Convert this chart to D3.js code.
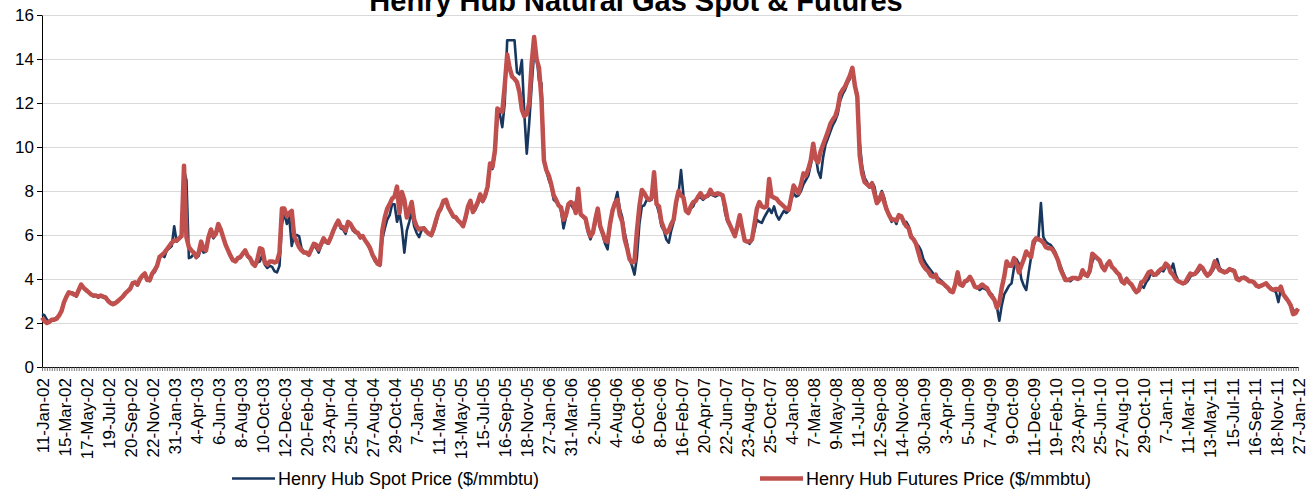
<!DOCTYPE html>
<html>
<head>
<meta charset="utf-8">
<script src="https://cdn.jsdelivr.net/npm/d3@7"></script>
<style>
body{margin:0;background:#fff;}
svg text{font-family:"Liberation Sans",Arial,sans-serif;}
</style>
</head>
<body>
<script>
// weekly prices, one row = 9 weeks (one labelled tick to the next)
var tickLabels=["11-Jan-02","15-Mar-02","17-May-02","19-Jul-02","20-Sep-02","22-Nov-02",
"31-Jan-03","4-Apr-03","6-Jun-03","8-Aug-03","10-Oct-03","12-Dec-03",
"20-Feb-04","23-Apr-04","25-Jun-04","27-Aug-04","29-Oct-04",
"7-Jan-05","11-Mar-05","13-May-05","15-Jul-05","16-Sep-05","18-Nov-05",
"27-Jan-06","31-Mar-06","2-Jun-06","4-Aug-06","6-Oct-06","8-Dec-06",
"16-Feb-07","20-Apr-07","22-Jun-07","23-Aug-07","25-Oct-07",
"4-Jan-08","7-Mar-08","9-May-08","11-Jul-08","12-Sep-08","14-Nov-08",
"30-Jan-09","3-Apr-09","5-Jun-09","7-Aug-09","9-Oct-09","11-Dec-09",
"19-Feb-10","23-Apr-10","25-Jun-10","27-Aug-10","29-Oct-10",
"7-Jan-11","11-Mar-11","13-May-11","15-Jul-11","16-Sep-11","18-Nov-11",
"27-Jan-12"];

var spotPrice=[
2.40,2.35,2.15,2.05,2.10,2.20,2.25,2.35,2.60,
2.95,3.25,3.35,3.40,3.35,3.20,3.45,3.70,3.60,
3.45,3.40,3.30,3.20,3.25,3.15,3.25,3.15,3.20,
3.05,2.95,2.90,2.95,2.95,3.10,3.20,3.30,3.45,
3.60,3.85,3.80,3.70,3.95,4.10,4.20,4.00,3.90,
4.20,4.30,4.55,4.95,5.10,5.00,5.30,5.40,5.50,
6.40,5.70,5.80,6.00,8.90,8.50,4.95,5.00,5.15,
4.95,5.05,5.45,5.20,5.25,5.80,6.10,5.85,6.00,
6.35,6.20,5.90,5.55,5.30,5.10,4.90,4.80,4.95,
4.95,5.10,5.25,5.00,4.90,4.80,4.60,4.75,4.80,
5.10,4.65,4.50,4.60,4.55,4.35,4.30,4.60,6.50,
7.00,6.50,6.80,5.50,6.00,6.00,5.95,5.40,5.25,
5.15,5.10,5.30,5.55,5.40,5.20,5.50,5.75,5.65,
5.60,5.85,6.15,6.40,6.60,6.30,6.25,6.05,6.50,
6.45,6.20,6.10,6.05,5.85,5.95,5.75,5.60,5.35,
5.05,4.80,4.70,4.60,5.80,6.30,6.70,6.90,7.40,
7.40,6.60,7.00,6.30,5.20,6.20,6.60,7.05,6.40,
6.10,5.90,6.20,6.35,6.20,6.10,5.95,6.20,6.55,
7.00,7.15,7.50,7.55,7.25,7.00,6.80,6.85,6.65,
6.55,6.45,6.70,7.20,7.50,7.00,7.15,7.40,7.70,
7.50,7.70,8.10,9.10,9.00,9.70,11.30,11.50,10.90,
12.00,14.85,14.85,14.85,14.85,13.40,13.30,13.95,11.50,
9.70,11.10,12.80,14.30,14.20,13.00,12.90,9.50,8.90,
8.50,8.20,7.60,7.50,7.40,7.10,6.30,6.80,7.30,
7.40,7.20,7.50,7.80,6.90,6.80,6.70,6.10,5.80,
6.10,6.50,7.00,6.30,6.00,5.60,5.35,6.40,7.00,
7.50,7.95,7.20,6.80,6.10,5.60,4.90,4.60,4.20,
5.00,6.50,7.30,7.35,7.60,7.55,7.60,8.40,7.40,
7.00,6.40,6.20,5.80,5.65,6.20,6.60,7.40,7.90,
8.95,7.80,7.10,7.00,7.20,7.30,7.60,7.70,7.70,
7.60,7.70,7.75,7.85,7.80,7.75,7.80,7.90,7.75,
7.00,6.60,6.40,6.20,5.95,6.30,6.70,6.40,5.80,
5.70,5.60,5.75,6.20,6.70,6.60,6.55,6.80,7.00,
7.20,7.00,7.30,6.90,6.70,6.90,7.10,7.00,7.10,
7.60,7.90,7.75,7.80,8.00,8.30,8.50,8.70,9.20,
9.70,9.60,8.90,8.60,9.50,10.10,10.40,10.70,11.00,
11.20,11.50,12.10,12.40,12.60,12.90,13.10,13.35,12.80,
12.40,10.20,9.10,8.60,8.40,8.15,8.40,8.20,7.60,
7.70,8.00,7.70,7.20,6.90,6.60,6.70,6.50,6.90,
6.80,6.50,6.60,6.40,6.00,5.80,5.60,5.50,5.30,
4.90,4.70,4.55,4.40,4.25,4.10,4.05,3.95,3.85,
3.65,3.60,3.45,3.50,3.70,4.10,3.80,3.70,3.85,
3.90,4.10,3.90,3.70,3.60,3.50,3.60,3.55,3.50,
3.40,3.30,3.10,2.75,2.10,2.80,3.30,3.50,3.70,
3.80,4.50,4.90,4.70,4.00,3.70,3.50,4.30,5.00,
5.50,5.80,5.90,7.45,5.90,5.70,5.60,5.55,5.40,
5.20,4.85,4.60,4.30,4.05,3.95,3.90,4.00,4.05,
4.00,4.10,4.40,4.20,4.10,4.30,4.80,5.05,4.90,
4.80,4.60,4.45,4.70,4.80,4.60,4.40,4.30,4.15,
3.85,3.90,4.05,3.80,3.70,3.60,3.40,3.45,3.70,
3.60,3.85,4.00,4.30,4.15,4.20,4.25,4.40,4.35,
4.55,4.60,4.40,4.70,4.20,3.95,3.85,3.80,3.80,
3.90,4.10,4.20,4.20,4.30,4.45,4.50,4.30,4.20,
4.20,4.35,4.55,4.90,4.50,4.40,4.35,4.30,4.40,
4.45,4.40,4.10,4.00,4.05,4.10,4.05,3.95,3.90,
3.85,3.75,3.65,3.70,3.75,3.80,3.70,3.60,3.50,
3.40,2.95,3.55,3.30,3.10,3.00,2.85,2.60,2.50,
2.65];

var futuresPrice=[
2.25,2.10,2.00,2.05,2.15,2.15,2.20,2.35,2.55,
2.95,3.20,3.40,3.35,3.30,3.25,3.50,3.75,3.60,
3.50,3.40,3.30,3.25,3.25,3.20,3.25,3.20,3.15,
3.00,2.90,2.85,2.90,3.00,3.10,3.20,3.35,3.45,
3.55,3.80,3.85,3.75,4.00,4.15,4.25,3.95,3.95,
4.25,4.40,4.60,5.00,5.10,5.20,5.35,5.50,5.65,
5.75,5.75,5.85,5.95,9.15,5.90,5.45,5.30,5.20,
5.00,5.20,5.70,5.35,5.30,5.90,6.25,5.95,6.05,
6.50,6.25,5.90,5.55,5.30,5.05,4.85,4.80,4.95,
5.00,5.15,5.30,5.05,4.95,4.70,4.60,4.90,5.40,
5.35,4.75,4.65,4.80,4.80,4.75,4.80,5.20,7.20,
7.20,6.85,7.00,7.10,5.95,5.70,5.45,5.30,5.20,
5.20,5.10,5.35,5.60,5.55,5.35,5.60,5.85,5.70,
5.65,5.90,6.20,6.45,6.65,6.40,6.35,6.20,6.60,
6.50,6.30,6.15,6.10,5.90,5.95,5.75,5.60,5.40,
5.10,4.90,4.70,4.65,6.20,6.80,7.20,7.40,7.65,
7.75,8.20,7.00,7.95,7.60,6.80,7.10,7.50,6.70,
6.40,6.25,6.30,6.30,6.15,6.05,6.00,6.30,6.70,
7.05,7.25,7.55,7.60,7.25,7.05,6.85,6.80,6.65,
6.55,6.40,6.80,7.30,7.55,7.05,7.25,7.50,7.85,
7.55,7.80,8.20,9.25,9.10,9.85,11.75,11.65,11.60,
12.80,14.20,13.60,13.20,13.10,12.95,12.50,11.70,11.40,
11.50,12.00,13.80,15.00,14.00,13.60,12.20,9.40,8.95,
8.70,8.30,7.80,7.60,7.35,7.25,6.70,6.90,7.40,
7.50,7.40,7.00,8.10,6.95,6.85,6.75,6.25,5.95,
6.10,6.70,7.20,6.40,6.10,5.75,5.70,6.50,7.10,
7.45,7.60,6.90,6.60,5.80,5.40,4.90,4.75,4.80,
6.20,7.30,8.05,7.90,7.70,7.60,7.70,8.85,7.40,
7.30,6.60,6.30,6.10,6.20,6.50,6.70,7.50,8.00,
7.80,7.70,7.10,7.00,7.30,7.50,7.55,7.75,7.90,
7.70,7.75,7.80,8.05,7.85,7.85,7.90,7.85,7.80,
7.30,6.70,6.45,6.20,5.95,6.40,6.90,6.30,5.75,
5.70,5.70,5.80,6.50,7.20,7.50,7.30,7.25,7.30,
8.55,7.75,7.70,7.65,7.50,7.40,7.30,7.20,7.15,
7.70,8.25,8.05,7.90,8.30,8.80,8.70,9.00,9.40,
10.15,9.45,9.30,9.80,10.10,10.40,10.70,11.05,11.25,
11.40,11.75,12.40,12.60,12.75,13.00,13.25,13.60,12.80,
12.30,9.60,8.80,8.40,8.30,8.20,8.35,7.90,7.45,
7.60,7.90,7.50,7.15,6.90,6.70,6.70,6.65,6.90,
6.85,6.60,6.40,6.30,5.90,5.80,5.60,5.20,4.80,
4.60,4.45,4.35,4.15,4.10,4.20,3.90,3.85,3.80,
3.70,3.60,3.45,3.40,3.75,4.30,3.75,3.70,3.90,
3.95,4.10,3.90,3.65,3.60,3.65,3.75,3.65,3.58,
3.35,3.20,3.05,2.70,2.90,3.60,4.10,4.80,4.60,
4.60,4.95,4.70,4.30,4.60,4.90,5.25,5.10,5.00,
5.70,5.85,5.80,5.75,5.65,5.45,5.40,5.40,5.30,
5.10,4.85,4.45,4.20,3.95,3.95,4.00,4.05,4.05,
4.00,4.05,4.40,4.20,4.15,4.40,5.15,5.05,4.95,
4.85,4.55,4.40,4.65,4.80,4.55,4.45,4.30,4.20,
3.90,3.80,4.00,3.85,3.75,3.55,3.40,3.50,3.85,
3.90,4.10,4.30,4.35,4.20,4.20,4.35,4.45,4.50,
4.70,4.60,4.30,4.20,4.00,3.90,3.85,3.80,3.85,
4.05,4.25,4.20,4.25,4.40,4.60,4.50,4.30,4.15,
4.25,4.45,4.80,4.60,4.40,4.35,4.30,4.35,4.45,
4.40,4.35,4.00,3.95,4.05,4.05,4.00,3.90,3.90,
3.85,3.70,3.65,3.70,3.75,3.80,3.65,3.55,3.50,
3.55,3.50,3.65,3.30,3.15,3.00,2.80,2.40,2.45,
2.65];

var seriesNames=["Henry Hub Spot Price ($/mmbtu)","Henry Hub Futures Price ($/mmbtu)"];
var seriesColors=["#17375E","#C0504D"];
var yTicks=[0,2,4,6,8,10,12,14,16];
var labelStep=9;

var drawChart=function()
{
  var width=1309;
  var height=489;
  var left=42, right=1298, top=15, bottom=367;

  var svg=d3.select("body").append("svg")
            .attr("width",width)
            .attr("height",height);

  var x=d3.scaleLinear().domain([0,spotPrice.length-1]).range([left,right]);
  var y=d3.scaleLinear().domain([0,16]).range([bottom,top]);

  // horizontal gridlines
  var grid=svg.append("g")
     .attr("transform","translate("+left+",0)")
     .call(d3.axisLeft(y).tickValues(yTicks.slice(1)).tickSize(-(right-left)).tickFormat(""));
  grid.select(".domain").remove();
  grid.selectAll("line").attr("stroke","#d9d9d9");

  // title sits partly above the top edge, as in the original
  svg.append("text")
     .text("Henry Hub Natural Gas Spot & Futures")
     .attr("x",636)
     .attr("y",11)
     .attr("text-anchor","middle")
     .attr("font-size",29)
     .attr("font-weight","bold");

  // y axis
  var yAxis=svg.append("g")
     .attr("transform","translate("+left+",0)")
     .call(d3.axisLeft(y).tickValues(yTicks).tickSize(5).tickSizeOuter(0).tickPadding(3));
  yAxis.selectAll("text").attr("font-size",17).attr("fill","#000").attr("font-family",null);
  yAxis.selectAll("line").attr("stroke","#000");
  yAxis.select(".domain").attr("stroke","#000");

  // weekly ticks on x axis
  var xMinor=svg.append("g")
     .attr("transform","translate(0,"+bottom+")")
     .call(d3.axisBottom(x).tickValues(d3.range(spotPrice.length)).tickSize(4).tickSizeOuter(0).tickFormat(""));
  xMinor.selectAll("line").attr("stroke","#555").attr("stroke-width",0.8);
  xMinor.select(".domain").attr("stroke","#000");

  // date labels every 9 weeks
  var xLab=svg.append("g")
     .attr("transform","translate(0,"+bottom+")")
     .call(d3.axisBottom(x).tickValues(d3.range(0,spotPrice.length,labelStep)).tickSize(0)
           .tickFormat(function(d){ return tickLabels[d/labelStep]; }));
  xLab.select(".domain").remove();
  xLab.selectAll("text")
      .attr("font-size",17)
      .attr("fill","#000")
      .attr("font-family",null)
      .attr("text-anchor","end")
      .attr("transform","rotate(-90)")
      .attr("x",-11)
      .attr("y",0)
      .attr("dy","0.36em");

  var line=d3.line()
     .x(function(d,i){ return x(i); })
     .y(function(d){ return y(d); })
     .curve(d3.curveLinear);

  svg.append("path")
     .datum(spotPrice)
     .attr("d",line)
     .attr("fill","none")
     .attr("stroke",seriesColors[0])
     .attr("stroke-width",2.6)
     .attr("stroke-linejoin","round");

  svg.append("path")
     .datum(futuresPrice)
     .attr("d",line)
     .attr("fill","none")
     .attr("stroke",seriesColors[1])
     .attr("stroke-width",4.5)
     .attr("stroke-linejoin","round");

  // legend
  var legendX=[232,760];
  var legendW=[2.6,4.5];
  var legend=svg.append("g");
  legend.selectAll("line")
        .data(seriesNames)
        .enter()
        .append("line")
        .attr("x1",function(d,i){ return legendX[i]; })
        .attr("x2",function(d,i){ return legendX[i]+43; })
        .attr("y1",478.5)
        .attr("y2",478.5)
        .attr("stroke",function(d,i){ return seriesColors[i]; })
        .attr("stroke-width",function(d,i){ return legendW[i]; });
  legend.selectAll("text")
        .data(seriesNames)
        .enter()
        .append("text")
        .text(function(d){ return d; })
        .attr("x",function(d,i){ return legendX[i]+46; })
        .attr("y",478.5)
        .attr("dy","0.35em")
        .attr("font-size",18)
        .attr("fill","#000");
};

drawChart();
</script>
</body>
</html>
